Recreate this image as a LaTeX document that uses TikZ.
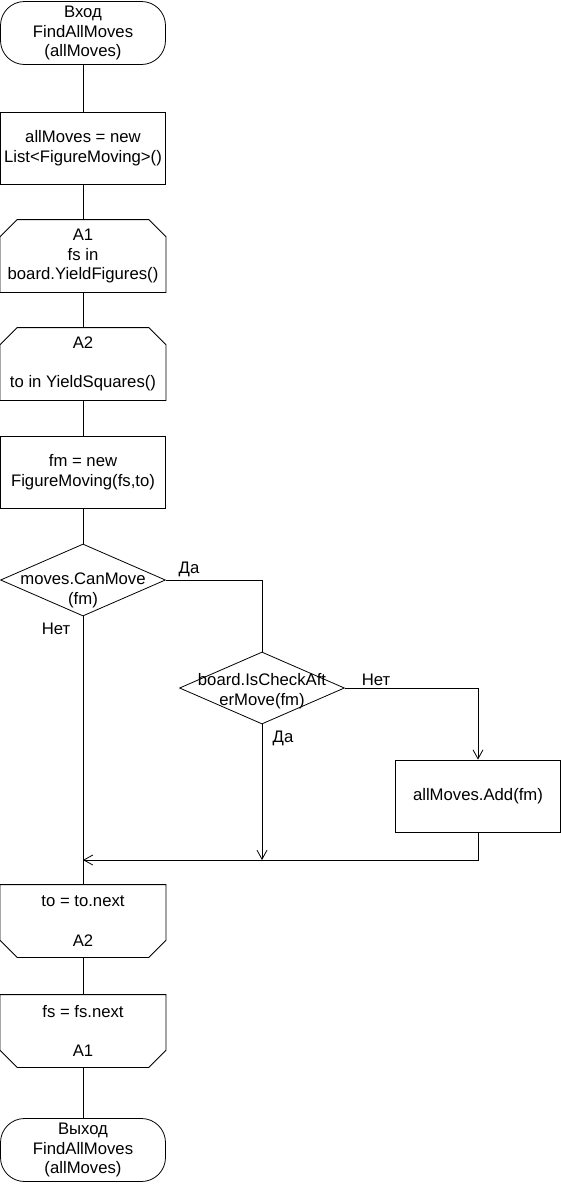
\documentclass[tikz,border=0pt]{standalone}
\usepackage{fontspec}
\setmainfont{Liberation Sans}
\usetikzlibrary{shapes.geometric,arrows.meta}
\begin{document}
\begin{tikzpicture}[x=1pt, y=-1pt, line width=0.8pt, >={Straight Barb[length=9pt,width=10pt]},
    every node/.style={font=\fontsize{16.7}{19.8}\selectfont, align=center, inner sep=0pt},
    term/.style={draw, rectangle, rounded corners=24pt, minimum width=165pt, minimum height=63pt},
    proc/.style={draw, rectangle, minimum width=165pt, minimum height=72pt},
    loopbox/.style={rectangle, minimum width=165pt, minimum height=72pt},
    cond/.style={draw, diamond, minimum width=165pt, minimum height=72pt}]
    \useasboundingbox (0,0) rectangle (561,1184);

    % main column
    \node[term] (start) at (83,33) {Вход\\FindAllMoves\\(allMoves)};
    \node[proc] (init) at (83,148.5) {allMoves = new\\List<FigureMoving>()};
    \node[loopbox] (a1) at (83,256) {A1\\fs in\\board.YieldFigures()};
    \node[loopbox] (a2) at (83,364) {A2\\\mbox{}\\to in YieldSquares()};
    \node[proc] (fm) at (83,472) {fm = new\\FigureMoving(fs,to)};
    \node[cond] (d1) at (83,580) {};
    \node (d1t) at (83,590) {moves.CanMove\\(fm)};
    \node[cond] (d2) at (262,688) {};
    \node (d2t) at (262,691) {board.IsCheckAft\\erMove(fm)};
    \node[proc] (add) at (478,796) {allMoves.Add(fm)};
    \coordinate (join) at (83,860);
    \node[loopbox] (e2) at (83,921) {to = to.next\\\mbox{}\\A2};
    \node[loopbox] (e1) at (83,1031) {fs = fs.next\\\mbox{}\\A1};
    \node[term] (stop) at (83,1150) {Выход\\FindAllMoves\\(allMoves)};

    % loop begin / loop end outlines
    \foreach \n in {a1,a2} {
        \draw ([yshift=-17pt]\n.north west) -- ([xshift=17pt]\n.north west) -- ([xshift=-17pt]\n.north east)
            -- ([yshift=-17pt]\n.north east) -- (\n.south east) -- (\n.south west) -- cycle;
    }
    \foreach \n in {e2,e1} {
        \draw (\n.north west) -- (\n.north east) -- ([yshift=17pt]\n.south east)
            -- ([xshift=-17pt]\n.south east) -- ([xshift=17pt]\n.south west) -- ([yshift=17pt]\n.south west) -- cycle;
    }

    % labels
    \node (yes1) at (189,569) {Да};
    \node (no1) at (56,629) {Нет};
    \node (no2) at (376,680) {Нет};
    \node (yes2) at (283,738) {Да};

    % connectors
    \draw (start) -- (init);
    \draw (init) -- (a1);
    \draw (a1) -- (a2);
    \draw (a2) -- (fm);
    \draw (fm) -- (d1);
    \draw (d1.east) -| (d2.north);
    \draw[->] (d2.east) -| (add.north);
    \draw[->] (d2.south) -- (d2.south |- join);
    \draw[->] (add.south) |- (join);
    \draw (d1.south) -- (e2.north);
    \draw (e2) -- (e1);
    \draw (e1) -- (stop);
\end{tikzpicture}
\end{document}
